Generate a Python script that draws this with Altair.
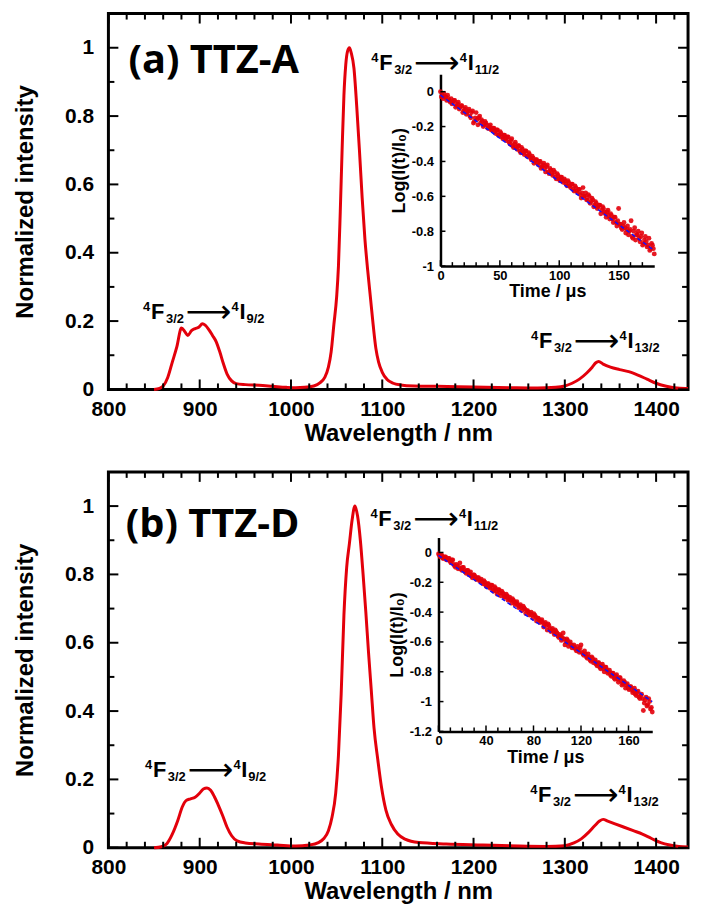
import altair as alt
import pandas as pd

FONT = "Liberation Sans"
RED = "#e3000b"
BLUE = "#1010ff"

# ---------------- main spectra ----------------
wl_a = [850, 856, 860, 865, 870, 875, 880, 884, 887, 891, 895, 899, 903, 906, 910, 914, 918, 922, 926, 930,
        935, 940, 950, 965, 980, 995, 1005, 1015, 1025, 1032, 1037, 1041, 1044, 1047, 1050, 1052, 1054, 1056,
        1058, 1060, 1062, 1064, 1066, 1069, 1072, 1075, 1078, 1081, 1084, 1087, 1090, 1093, 1096, 1100, 1105,
        1112, 1120, 1135, 1160, 1200, 1240, 1270, 1290, 1300, 1308, 1316, 1324, 1330, 1334, 1337, 1342, 1350,
        1360, 1370, 1380, 1390, 1400, 1410, 1420, 1432, 1435]
int_a = [0.0, 0.003, 0.01, 0.035, 0.08, 0.125, 0.18, 0.168, 0.158, 0.172, 0.178, 0.182, 0.192, 0.188, 0.175,
         0.158, 0.14, 0.11, 0.075, 0.045, 0.025, 0.017, 0.014, 0.012, 0.009, 0.006, 0.005, 0.006, 0.01, 0.02,
         0.035, 0.065, 0.11, 0.19, 0.27, 0.36, 0.52, 0.70, 0.86, 0.95, 0.99, 1.0, 0.985, 0.94, 0.83, 0.70,
         0.56, 0.44, 0.35, 0.27, 0.19, 0.12, 0.08, 0.05, 0.03, 0.018, 0.013, 0.01, 0.009, 0.007, 0.005, 0.004,
         0.006, 0.01, 0.018, 0.03, 0.048, 0.065, 0.078, 0.082, 0.074, 0.065, 0.058, 0.052, 0.042, 0.03, 0.018,
         0.01, 0.005, 0.003, 0.003]

wl_b = [850, 858, 864, 870, 876, 881, 885, 890, 895, 900, 904, 908, 912, 916, 920, 925, 930, 935, 941, 950,
        965, 985, 1005, 1020, 1030, 1036, 1041, 1045, 1049, 1052, 1055, 1058, 1061, 1064, 1067, 1070, 1073,
        1076, 1079, 1082, 1085, 1088, 1091, 1095, 1099, 1104, 1110, 1117, 1125, 1140, 1170, 1210, 1250, 1280,
        1300, 1310, 1318, 1326, 1333, 1338, 1342, 1347, 1355, 1365, 1375, 1385, 1395, 1405, 1415, 1425, 1435]
int_b = [0.0, 0.003, 0.012, 0.04, 0.08, 0.12, 0.138, 0.143, 0.148, 0.16, 0.172, 0.175, 0.168, 0.15, 0.127,
         0.095, 0.06, 0.035, 0.02, 0.014, 0.011, 0.008, 0.005, 0.008, 0.015, 0.027, 0.05, 0.09, 0.16, 0.27,
         0.45, 0.68, 0.82, 0.89, 0.96, 1.0, 0.97, 0.9, 0.8, 0.69, 0.57, 0.46, 0.35, 0.26, 0.18, 0.11, 0.068,
         0.04, 0.025, 0.015, 0.011, 0.008, 0.005, 0.004, 0.006, 0.014, 0.026, 0.045, 0.065, 0.078, 0.083,
         0.078, 0.07, 0.06, 0.05, 0.04, 0.027, 0.015, 0.008, 0.004, 0.002]

# ---------------- inset decays (two interleaved read-outs of the dense cloud) ----------------
t_decay = [0, 1.5, 3, 4.5, 6, 7.5, 9, 10.5, 12, 13.5, 15, 16.5, 18, 19.5, 21, 22.5, 24, 25.5, 27, 28.5,
           30, 31.5, 33, 34.5, 36, 37.5, 39, 40.5, 42, 43.5, 45, 46.5, 48, 49.5, 51, 52.5, 54, 55.5, 57, 58.5,
           60, 61.5, 63, 64.5, 66, 67.5, 69, 70.5, 72, 73.5, 75, 76.5, 78, 79.5, 81, 82.5, 84, 85.5, 87, 88.5,
           90, 91.5, 93, 94.5, 96, 97.5, 99, 100.5, 102, 103.5, 105, 106.5, 108, 109.5, 111, 112.5, 114, 115.5,
           117, 118.5, 120, 121.5, 123, 124.5, 126, 127.5, 129, 130.5, 132, 133.5, 135, 136.5, 138, 139.5,
           141, 142.5, 144, 145.5, 147, 148.5, 150, 151.5, 153, 154.5, 156, 157.5, 159, 160.5, 162, 163.5,
           165, 166.5, 168, 169.5, 171, 172.5, 174, 175.5, 177, 178.5, 180]
log_a = [-0.00, -0.02, -0.01, -0.03, -0.02, -0.05, -0.04, -0.06, -0.05, -0.08, -0.06, -0.09, -0.08, -0.11,
         -0.09, -0.12, -0.10, -0.15, -0.11, -0.17, -0.12, -0.19, -0.14, -0.16, -0.20, -0.17, -0.19, -0.21,
         -0.19, -0.22, -0.21, -0.24, -0.22, -0.25, -0.24, -0.27, -0.25, -0.28, -0.26, -0.30, -0.27, -0.32,
         -0.29, -0.33, -0.31, -0.35, -0.33, -0.36, -0.34, -0.37, -0.36, -0.39, -0.38, -0.40, -0.39, -0.42,
         -0.40, -0.43, -0.41, -0.46, -0.42, -0.47, -0.45, -0.48, -0.46, -0.50, -0.48, -0.51, -0.49, -0.52,
         -0.51, -0.54, -0.52, -0.55, -0.53, -0.57, -0.55, -0.58, -0.56, -0.61, -0.55, -0.60, -0.62, -0.59,
         -0.64, -0.61, -0.66, -0.63, -0.67, -0.65, -0.70, -0.66, -0.69, -0.72, -0.68, -0.73, -0.71, -0.75,
         -0.72, -0.77, -0.67, -0.76, -0.79, -0.75, -0.81, -0.77, -0.80, -0.74, -0.84, -0.78, -0.82, -0.80,
         -0.86, -0.81, -0.87, -0.83, -0.89, -0.84, -0.90, -0.88, -0.93]
t_decay2 = [0.75, 2.25, 3.75, 5.25, 6.75, 8.25, 9.75, 11.25, 12.75, 14.25, 15.75, 17.25, 18.75, 20.25, 21.75,
            23.25, 24.75, 26.25, 27.75, 29.25, 30.75, 32.25, 33.75, 35.25, 36.75, 38.25, 39.75, 41.25, 42.75,
            44.25, 45.75, 47.25, 48.75, 50.25, 51.75, 53.25, 54.75, 56.25, 57.75, 59.25, 60.75, 62.25, 63.75,
            65.25, 66.75, 68.25, 69.75, 71.25, 72.75, 74.25, 75.75, 77.25, 78.75, 80.25, 81.75, 83.25, 84.75,
            86.25, 87.75, 89.25, 90.75, 92.25, 93.75, 95.25, 96.75, 98.25, 99.75, 101.25, 102.75, 104.25,
            105.75, 107.25, 108.75, 110.25, 111.75, 113.25, 114.75, 116.25, 117.75, 119.25, 120.75, 122.25,
            123.75, 125.25, 126.75, 128.25, 129.75, 131.25, 132.75, 134.25, 135.75, 137.25, 138.75, 140.25,
            141.75, 143.25, 144.75, 146.25, 147.75, 149.25, 150.75, 152.25, 153.75, 155.25, 156.75, 158.25,
            159.75, 161.25, 162.75, 164.25, 165.75, 167.25, 168.75, 170.25, 171.75, 173.25, 174.75, 176.25,
            177.75, 179.25]
log_a2 = [-0.03, -0.04, -0.03, -0.05, -0.04, -0.06, -0.07, -0.05, -0.09, -0.07, -0.10, -0.08, -0.12, -0.10,
          -0.13, -0.11, -0.14, -0.12, -0.18, -0.15, -0.16, -0.15, -0.18, -0.17, -0.19, -0.18, -0.21, -0.20,
          -0.22, -0.21, -0.23, -0.22, -0.25, -0.23, -0.26, -0.25, -0.27, -0.26, -0.29, -0.28, -0.31, -0.30,
          -0.32, -0.31, -0.34, -0.32, -0.35, -0.34, -0.37, -0.35, -0.38, -0.37, -0.41, -0.39, -0.41, -0.40,
          -0.44, -0.42, -0.44, -0.43, -0.46, -0.44, -0.47, -0.45, -0.49, -0.47, -0.50, -0.49, -0.51, -0.50,
          -0.53, -0.51, -0.54, -0.53, -0.56, -0.54, -0.57, -0.56, -0.59, -0.58, -0.60, -0.58, -0.62, -0.60,
          -0.63, -0.62, -0.65, -0.64, -0.66, -0.65, -0.68, -0.67, -0.70, -0.69, -0.71, -0.70, -0.73, -0.72,
          -0.75, -0.74, -0.76, -0.78, -0.77, -0.78, -0.79, -0.82, -0.79, -0.83, -0.80, -0.85, -0.82, -0.84,
          -0.83, -0.88, -0.85, -0.86, -0.88, -0.91, -0.87, -0.90]
log_b = [-0.01, -0.03, -0.02, -0.04, -0.03, -0.05, -0.04, -0.07, -0.05, -0.09, -0.08, -0.11, -0.07, -0.12,
         -0.10, -0.13, -0.12, -0.15, -0.13, -0.17, -0.15, -0.18, -0.17, -0.19, -0.18, -0.21, -0.20, -0.23,
         -0.21, -0.24, -0.22, -0.26, -0.24, -0.28, -0.25, -0.29, -0.27, -0.30, -0.28, -0.32, -0.30, -0.34,
         -0.32, -0.35, -0.33, -0.37, -0.35, -0.39, -0.37, -0.41, -0.39, -0.42, -0.40, -0.44, -0.42, -0.46,
         -0.44, -0.47, -0.45, -0.50, -0.47, -0.52, -0.49, -0.53, -0.51, -0.55, -0.53, -0.56, -0.55, -0.59,
         -0.54, -0.62, -0.58, -0.63, -0.60, -0.64, -0.62, -0.65, -0.63, -0.67, -0.62, -0.68, -0.66, -0.70,
         -0.68, -0.72, -0.70, -0.74, -0.72, -0.76, -0.74, -0.78, -0.75, -0.80, -0.77, -0.81, -0.79, -0.83,
         -0.81, -0.85, -0.82, -0.87, -0.84, -0.89, -0.86, -0.91, -0.88, -0.92, -0.90, -0.94, -0.91, -0.96,
         -0.93, -0.98, -0.95, -1.06, -0.99, -1.03, -0.98, -1.05, -1.07]
log_b2 = [-0.02, -0.02, -0.04, -0.03, -0.05, -0.04, -0.06, -0.05, -0.08, -0.10, -0.09, -0.10, -0.11, -0.10,
          -0.12, -0.14, -0.12, -0.14, -0.16, -0.15, -0.16, -0.18, -0.17, -0.19, -0.20, -0.19, -0.22, -0.21,
          -0.23, -0.22, -0.25, -0.23, -0.26, -0.25, -0.27, -0.26, -0.28, -0.30, -0.29, -0.31, -0.32, -0.31,
          -0.33, -0.34, -0.35, -0.36, -0.37, -0.36, -0.38, -0.39, -0.40, -0.41, -0.42, -0.41, -0.43, -0.44,
          -0.45, -0.46, -0.47, -0.48, -0.49, -0.48, -0.51, -0.52, -0.53, -0.52, -0.54, -0.57, -0.56, -0.57,
          -0.58, -0.60, -0.59, -0.61, -0.62, -0.63, -0.64, -0.66, -0.65, -0.64, -0.67, -0.69, -0.68, -0.71,
          -0.70, -0.73, -0.71, -0.73, -0.75, -0.74, -0.77, -0.76, -0.78, -0.77, -0.79, -0.80, -0.82, -0.81,
          -0.84, -0.83, -0.85, -0.84, -0.86, -0.88, -0.87, -0.89, -0.91, -0.90, -0.92, -0.93, -0.95, -0.94,
          -0.97, -0.96, -0.98, -1.01, -0.97, -1.02, -1.00, -1.04]
fit_t = [0, 180]
fit_a = [-0.02, -0.91]
fit_b = [-0.02, -1.00]

# ---------------- ticks / labels ----------------
x_major = [800, 900, 1000, 1100, 1200, 1300, 1400]
x_minor = [820, 840, 860, 880, 920, 940, 960, 980, 1020, 1040, 1060, 1080, 1120, 1140, 1160, 1180,
           1220, 1240, 1260, 1280, 1320, 1340, 1360, 1380, 1420]
y_major = [0, 0.2, 0.4, 0.6, 0.8, 1]
y_minor = [0.1, 0.3, 0.5, 0.7, 0.9]

ins_a_xmaj = [0, 50, 100, 150]
ins_a_xmin = [10, 20, 30, 40, 60, 70, 80, 90, 110, 120, 130, 140, 160, 170]
ins_a_ymaj = [0, -0.2, -0.4, -0.6, -0.8, -1]
ins_b_xmaj = [0, 40, 80, 120, 160]
ins_b_xmin = [10, 20, 30, 50, 60, 70, 90, 100, 110, 130, 140, 150, 170]
ins_b_ymaj = [0, -0.2, -0.4, -0.6, -0.8, -1, -1.2]

tag_a = ["(a) TTZ-A"]
tag_b = ["(b) TTZ-D"]
trans_sub = ["9/2", "11/2", "13/2"]
trans_a_wl = [838, 1088, 1263]
trans_a_v = [0.205, 0.935, 0.121]
trans_b_wl = [840, 1087, 1262]
trans_b_v = [0.207, 0.942, 0.135]

W, H = 583, 378
XMIN, XMAX = 800, 1435
YMAX = 1.1


def lab_axis(title, values, **kw):
    return alt.Axis(title=title, values=values, ticks=False, domain=False, grid=False,
                    labelFont=FONT, labelFontWeight="bold", labelColor="black",
                    titleFont=FONT, titleFontWeight="bold", titleColor="black",
                    labelFlush=False, labelOverlap=False, labelExpr="'' + datum.value", **kw)


def panel(wl, inten, tag, tag_wl, tag_v, tr_wl, tr_v, lg, lg2, fit_y, xmaj_i, xmin_i, ymaj_i, ydom,
          xrange_i, yrange_i):
    xs = alt.Scale(domain=[XMIN, XMAX], nice=False, zero=False)
    ys = alt.Scale(domain=[0, YMAX], nice=False, zero=False)
    px_x = (XMAX - XMIN) / W   # data units per pixel
    px_y = YMAX / H
    spec = pd.DataFrame({"wl": wl, "v": inten})
    line = alt.Chart(spec).mark_line(color=RED, strokeWidth=3, interpolate="monotone").encode(
        x=alt.X("wl:Q", scale=xs, axis=lab_axis("Wavelength / nm", x_major, orient="bottom",
                                                 labelFontSize=21, titleFontSize=24,
                                                 labelPadding=9, titlePadding=2)),
        y=alt.Y("v:Q", scale=ys, axis=lab_axis("Normalized intensity", y_major, orient="left",
                                                labelFontSize=21, titleFontSize=24,
                                                labelPadding=15, titlePadding=27)),
    )
    layers = [line]
    # inward ticks on all four sides (rules)
    for vals, ln in ((x_major, 10), (x_minor, 6)):
        d = pd.DataFrame({"wl": vals})
        layers.append(alt.Chart(d).mark_rule(color="black", strokeWidth=2).encode(
            x="wl:Q", y=alt.datum(0), y2=alt.datum(ln * px_y)))
        layers.append(alt.Chart(d).mark_rule(color="black", strokeWidth=2).encode(
            x="wl:Q", y=alt.datum(YMAX), y2=alt.datum(YMAX - ln * px_y)))
    for vals, ln in ((y_major, 10), (y_minor, 6)):
        d = pd.DataFrame({"v": vals})
        layers.append(alt.Chart(d).mark_rule(color="black", strokeWidth=2).encode(
            y="v:Q", x=alt.datum(XMIN), x2=alt.datum(XMIN + ln * px_x)))
        layers.append(alt.Chart(d).mark_rule(color="black", strokeWidth=2).encode(
            y="v:Q", x=alt.datum(XMAX), x2=alt.datum(XMAX - ln * px_x)))
    # panel tag
    tdf = pd.DataFrame({"wl": [tag_wl], "v": [tag_v], "txt": tag})
    layers.append(alt.Chart(tdf).mark_text(align="left", baseline="alphabetic", font="Open Sans",
                                           fontWeight="bold", fontSize=40, color="black").encode(
        x="wl:Q", y="v:Q", text="txt:N"))
    # transition labels built from pieces: 4F3/2 -> 4I(sub)
    trdf = pd.DataFrame({"wl": tr_wl, "v": tr_v, "sub": trans_sub})
    pieces = [("4", 0, -8, 13, FONT, "bold"), ("F", 8, 0, 22, FONT, "bold"),
              ("3/2", 23, 4, 13, FONT, "bold"), ("\u27f6", 43, 3, 32, "DejaVu Sans", "normal"),
              ("4", 89, -8, 13, FONT, "bold"), ("I", 97, 0, 22, FONT, "bold")]
    for txt, dx, dy, fs, fnt, fw in pieces:
        layers.append(alt.Chart(trdf).mark_text(align="left", baseline="alphabetic", font=fnt,
                                                fontWeight=fw, fontSize=fs, dx=dx, dy=dy,
                                                color="black").encode(
            x="wl:Q", y="v:Q", text=alt.value(txt)))
    layers.append(alt.Chart(trdf).mark_text(align="left", baseline="alphabetic", font=FONT,
                                            fontWeight="bold", fontSize=13, dx=104, dy=4,
                                            color="black").encode(x="wl:Q", y="v:Q", text="sub:N"))
    main = alt.layer(*layers)

    # ---- inset ----
    ixs = alt.Scale(domain=[0, 180], range=xrange_i, nice=False, zero=False)
    iys = alt.Scale(domain=ydom, range=yrange_i, nice=False, zero=False)
    ipx_x = 180 / (xrange_i[1] - xrange_i[0])
    ipx_y = (ydom[1] - ydom[0]) / (yrange_i[0] - yrange_i[1])
    ix_axis = alt.Axis(title="Time / \u03bcs", orient="bottom", offset=-(H - yrange_i[0]), values=xmaj_i,
                       ticks=False, grid=False, domain=True, domainColor="black", domainWidth=2.5,
                       labelFont=FONT, labelFontWeight="bold", labelColor="black", labelFontSize=13,
                       labelPadding=3, titleFont=FONT, titleFontWeight="bold", titleColor="black",
                       titleFontSize=18, titlePadding=1, labelFlush=False, labelOverlap=False,
                       labelExpr="'' + datum.value")
    iy_axis = alt.Axis(title="Log(I(t)/I\u2080)", orient="left", offset=-xrange_i[0], values=ymaj_i,
                       ticks=False, grid=False, domain=True, domainColor="black", domainWidth=2.5,
                       labelFont=FONT, labelFontWeight="bold", labelColor="black", labelFontSize=13,
                       labelPadding=7, titleFont=FONT, titleFontWeight="bold", titleColor="black",
                       titleFontSize=18, titlePadding=3, labelFlush=False, labelOverlap=False,
                       labelExpr="'' + datum.value")
    dd = pd.DataFrame({"t": t_decay + t_decay2, "lg": lg + lg2})
    pts = alt.Chart(dd).mark_circle(size=24, color=RED, opacity=0.9).encode(
        x=alt.X("t:Q", scale=ixs, axis=ix_axis), y=alt.Y("lg:Q", scale=iys, axis=iy_axis))
    fdf = pd.DataFrame({"t": fit_t, "lg": fit_y})
    fit = alt.Chart(fdf).mark_line(color=BLUE, strokeWidth=1.5, strokeDash=[4, 3]).encode(
        x="t:Q", y="lg:Q")
    ilayers = [pts, fit]
    for vals, ln in ((xmaj_i, 6), (xmin_i, 4)):
        d = pd.DataFrame({"t": vals})
        ilayers.append(alt.Chart(d).mark_rule(color="black", strokeWidth=1.5).encode(
            x="t:Q", y=alt.datum(ydom[0]), y2=alt.datum(ydom[0] + ln * ipx_y)))
    d = pd.DataFrame({"lg": ymaj_i})
    ilayers.append(alt.Chart(d).mark_rule(color="black", strokeWidth=1.5).encode(
        y="lg:Q", x=alt.datum(0), x2=alt.datum(5 * ipx_x)))
    inset = alt.layer(*ilayers)

    return alt.layer(main, inset).resolve_scale(x="independent", y="independent").properties(
        width=W, height=H)


pa = panel(wl_a, int_a, tag_a, 822, 0.925, trans_a_wl, trans_a_v, log_a, log_a2, fit_a,
           ins_a_xmaj, ins_a_xmin, ins_a_ymaj, [-1, 0.1], [334, 549], [254, 61])
pb = panel(wl_b, int_b, tag_b, 819, 0.91, trans_b_wl, trans_b_v, log_b, log_b2, fit_b,
           ins_b_xmaj, ins_b_xmin, ins_b_ymaj, [-1.2, 0.1], [332, 547], [261, 66])

chart = alt.vconcat(pa, pb, spacing=22).configure_view(stroke="black", strokeWidth=3).properties(
    padding={"left": 4, "top": 0, "right": 0, "bottom": 0})

chart.save("out.html", embed_options={"renderer": "svg", "actions": False})
